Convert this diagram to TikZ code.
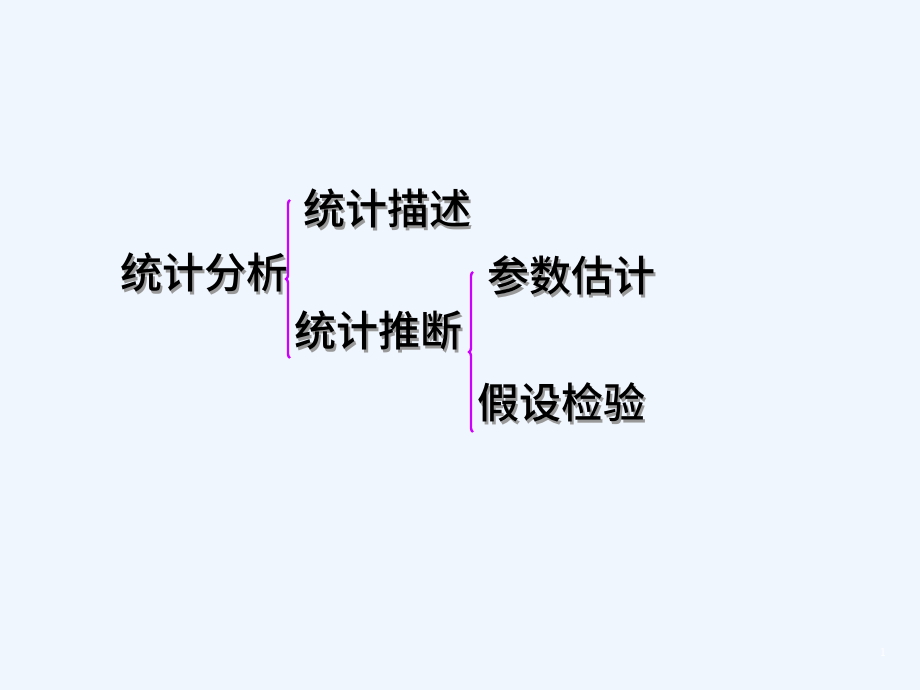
\documentclass[tikz,border=0pt]{standalone}
\usepackage{fontspec}
\newfontfamily\cjk{Noto Sans CJK SC}[UprightFont=* Medium]
\usetikzlibrary{decorations.pathreplacing}
\definecolor{slidebg}{RGB}{240,246,254}
\definecolor{bracecol}{RGB}{204,0,255}
\tikzset{
  term/.style={font=\cjk\fontsize{42}{42}\selectfont, inner sep=0pt, text=black},
  bracket/.style={draw=bracecol, line width=2.4pt, decorate,
    decoration={brace, amplitude=4pt}}
}
% term text with its drop shadow
\newcommand{\shadowed}[1]{%
  \rlap{\kern2.5pt\raisebox{-2.5pt}{\textcolor{black!40}{#1}}}#1}
\begin{document}
\begin{tikzpicture}[x=1pt,y=1pt]
  % Background
  \fill[slidebg] (0,0) rectangle (920,690);
  \useasboundingbox (0,0) rectangle (920,690);

  % Terms
  \node[term] (analysis) at (204,416) {\shadowed{统计分析}};
  \node[term] (describe) at (387,480) {\shadowed{统计描述}};
  \node[term] (infer) at (378,358) {\shadowed{统计推断}};
  \node[term] (estimate) at (571,413) {\shadowed{参数估计}};
  \node[term] (test) at (561,286) {\shadowed{假设检验}};

  % Braces
  \coordinate (b1low) at (290,332);
  \coordinate (b1up) at (290,490);
  \coordinate (b2low) at (473,258);
  \coordinate (b2up) at (473,418);
  \draw[bracket] (b1low) -- (b1up);
  \draw[bracket] (b2low) -- (b2up);

  % Page number
  \node[text=white, font=\sffamily\fontsize{12}{12}\selectfont] (page) at (883,38) {1};
\end{tikzpicture}
\end{document}
